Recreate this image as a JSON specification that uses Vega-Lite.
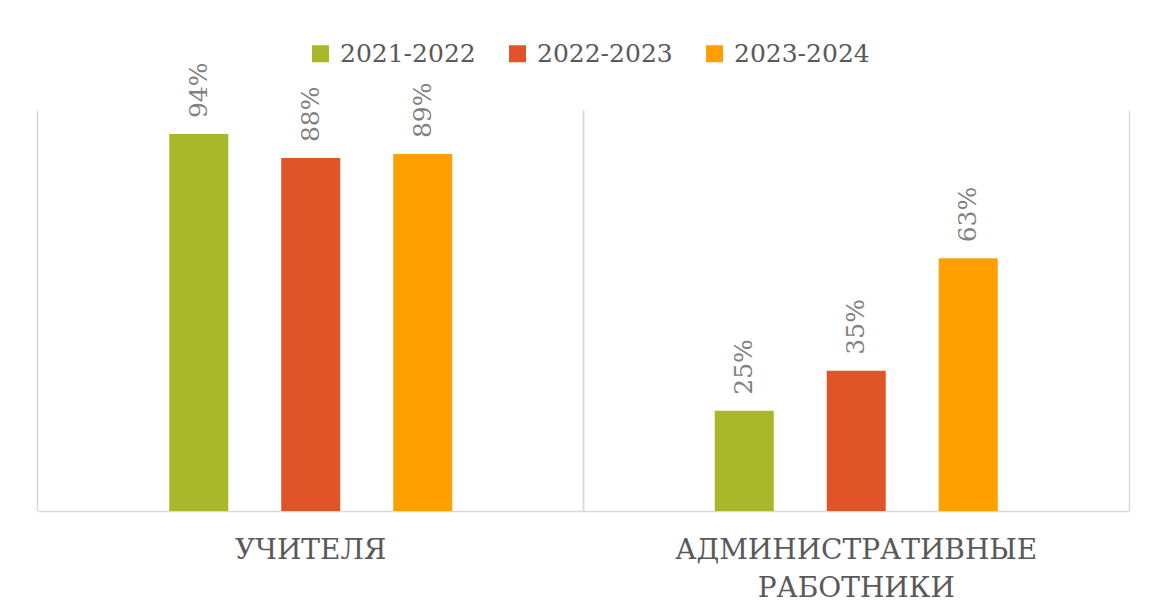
{
  "$schema": "https://vega.github.io/schema/vega-lite/v6.json",
  "width": 1091,
  "height": 401,
  "autosize": "none",
  "padding": {"left": 38, "top": 110, "right": 20, "bottom": 101},
  "background": "white",
  "config": {
    "view": {"stroke": null},
    "font": "DejaVu Serif",
    "text": {"font": "DejaVu Serif"},
    "axis": {"labelFont": "DejaVu Serif"},
    "legend": {"labelFont": "DejaVu Serif"}
  },
  "data": {
    "values": [
      {"category": "УЧИТЕЛЯ", "year": "2021-2022", "value": 0.94},
      {"category": "УЧИТЕЛЯ", "year": "2022-2023", "value": 0.88},
      {"category": "УЧИТЕЛЯ", "year": "2023-2024", "value": 0.89},
      {"category": "АДМИНИСТРАТИВНЫЕ РАБОТНИКИ", "year": "2021-2022", "value": 0.25},
      {"category": "АДМИНИСТРАТИВНЫЕ РАБОТНИКИ", "year": "2022-2023", "value": 0.35},
      {"category": "АДМИНИСТРАТИВНЫЕ РАБОТНИКИ", "year": "2023-2024", "value": 0.63}
    ]
  },
  "encoding": {
    "x": {
      "field": "category",
      "type": "nominal",
      "sort": ["УЧИТЕЛЯ", "АДМИНИСТРАТИВНЫЕ РАБОТНИКИ"],
      "scale": {"paddingInner": 0.0706, "paddingOuter": 0.0353}
    },
    "xOffset": {
      "field": "year",
      "type": "nominal",
      "sort": ["2021-2022", "2022-2023", "2023-2024"],
      "scale": {"paddingInner": 0.473, "paddingOuter": 1}
    },
    "y": {
      "field": "value",
      "type": "quantitative",
      "scale": {"domain": [0, 1]},
      "axis": null
    }
  },
  "layer": [
    {
      "mark": {"type": "bar"},
      "encoding": {
        "x": {
          "field": "category",
          "type": "nominal",
          "sort": ["УЧИТЕЛЯ", "АДМИНИСТРАТИВНЫЕ РАБОТНИКИ"],
          "scale": {"paddingInner": 0.0706, "paddingOuter": 0.0353},
          "axis": {
            "orient": "bottom",
            "title": null,
            "grid": true,
            "gridColor": "#d9d9d9",
            "gridWidth": 1.5,
            "bandPosition": -0.038,
            "domain": true,
            "domainColor": "#d9d9d9",
            "domainWidth": 1.5,
            "ticks": false,
            "labelAngle": 0,
            "labelFontSize": 28,
            "labelColor": "#595959",
            "labelPadding": 25,
            "labelLineHeight": 38,
            "labelLimit": 600,
            "labelExpr": "split(datum.label, ' ')"
          }
        },
        "color": {
          "field": "year",
          "type": "nominal",
          "sort": ["2021-2022", "2022-2023", "2023-2024"],
          "scale": {
            "domain": ["2021-2022", "2022-2023", "2023-2024"],
            "range": ["#A8B828", "#E05427", "#FF9F00"]
          },
          "legend": {
            "title": null,
            "orient": "none",
            "direction": "horizontal",
            "legendX": 270,
            "legendY": -69,
            "symbolType": "square",
            "symbolSize": 289,
            "symbolStrokeWidth": 0,
            "symbolOpacity": 1,
            "labelFontSize": 25,
            "labelColor": "#595959",
            "labelOffset": 7,
            "labelLimit": 300,
            "columnPadding": 29
          }
        }
      }
    },
    {
      "mark": {
        "type": "text",
        "angle": 270,
        "align": "left",
        "baseline": "middle",
        "dx": 16,
        "fontSize": 25,
        "color": "#808080"
      },
      "encoding": {
        "x": {
          "field": "category",
          "type": "nominal",
          "sort": ["УЧИТЕЛЯ", "АДМИНИСТРАТИВНЫЕ РАБОТНИКИ"],
          "scale": {"paddingInner": 0.0706, "paddingOuter": 0.0353},
          "axis": {
            "orient": "top",
            "title": null,
            "grid": true,
            "gridColor": "#d9d9d9",
            "gridWidth": 1.5,
            "bandPosition": 1.038,
            "domain": false,
            "ticks": false,
            "labels": false
          }
        },
        "text": {"field": "value", "type": "quantitative", "format": ".0%"}
      }
    }
  ],
  "resolve": {"axis": {"x": "independent"}}
}
